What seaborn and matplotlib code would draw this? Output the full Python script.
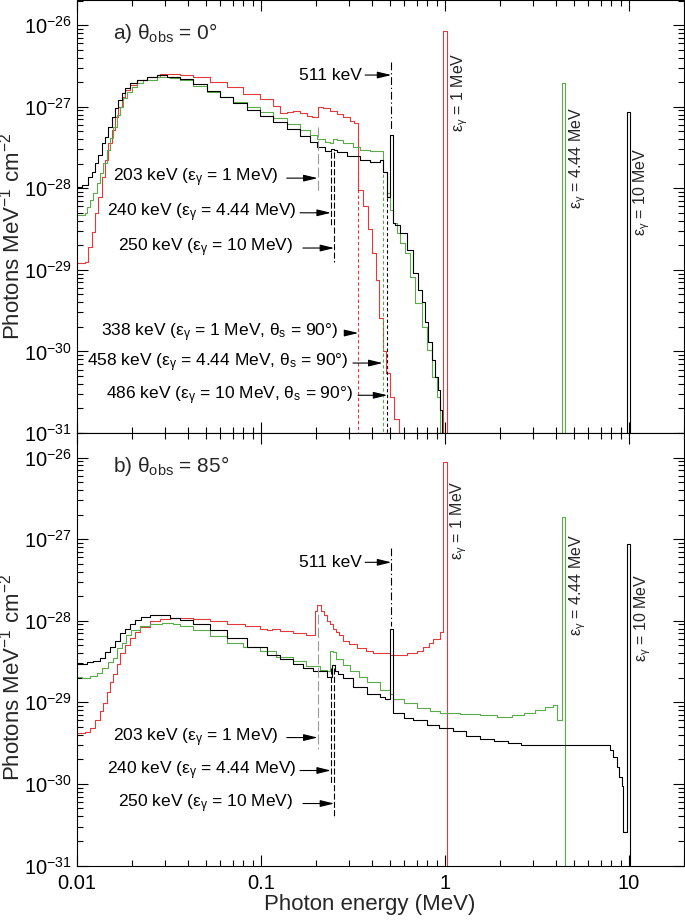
import numpy as np
import pandas as pd
import matplotlib
matplotlib.use("Agg")
import matplotlib.pyplot as plt
from matplotlib.ticker import LogLocator, NullFormatter, FixedLocator, FixedFormatter, LogFormatterSciNotation
import seaborn as sns

OFF = 1e-33  # continuum below the plotted range

# ---------------- panel a) theta_obs = 0 deg ----------------
A_BLACK_E = [0.0100, 0.0107, 0.0115, 0.0120, 0.0125, 0.0130, 0.0136, 0.0142, 0.0147, 0.0155,
             0.0161, 0.0167, 0.0176, 0.0182, 0.0194, 0.0212, 0.0240, 0.0272, 0.0309, 0.0363,
             0.0427, 0.0509, 0.0599, 0.0705, 0.0839, 0.0988, 0.116, 0.138, 0.163, 0.184,
             0.2015, 0.223, 0.240, 0.250, 0.260, 0.293, 0.345, 0.392, 0.443, 0.460,
             0.484, 0.502, 0.521, 0.535, 0.569, 0.621, 0.670, 0.713, 0.750, 0.778,
             0.809, 0.850, 0.882, 0.916, 0.939, 0.960, 9.75, 10.1, 20.0]
A_BLACK_F = [1.03e-28, 1.09e-28, 1.37e-28, 1.58e-28, 2.04e-28, 2.55e-28, 3.58e-28, 4.24e-28, 5.62e-28, 7.5e-28,
             9.6e-28, 1.21e-27, 1.47e-27, 1.69e-27, 1.95e-27, 2.12e-27, 2.31e-27, 2.44e-27, 2.31e-27, 2.18e-27,
             1.88e-27, 1.56e-27, 1.31e-27, 1.11e-27, 9.1e-28, 7.7e-28, 6.5e-28, 5.3e-28, 4.37e-28, 3.7e-28,
             3.2e-28, 2.86e-28, 3.0e-28, 2.94e-28, 2.78e-28, 2.47e-28, 2.22e-28, 2.09e-28, 2.2e-28, 1.58e-28,
             7.8e-29, 4.5e-28, 3.75e-29, 3.5e-29, 2.83e-29, 1.75e-29, 9.1e-30, 5.65e-30, 4.0e-30, 2.3e-30,
             1.3e-30, 7.8e-31, 4.9e-31, 3.4e-31, 1.9e-31, OFF, 8.6e-28, OFF, OFF]

A_GREEN_E = [0.0100, 0.0110, 0.0113, 0.0118, 0.0122, 0.0128, 0.0133, 0.0138, 0.0146, 0.0151,
             0.0157, 0.0165, 0.0171, 0.0178, 0.0187, 0.0199, 0.0212, 0.0228, 0.0272, 0.0320,
             0.0363, 0.0427, 0.0509, 0.0599, 0.0705, 0.0839, 0.0988, 0.116, 0.138, 0.163,
             0.184, 0.2015, 0.223, 0.237, 0.246, 0.259, 0.279, 0.316, 0.345, 0.392,
             0.460, 0.484, 0.502, 0.521, 0.548, 0.569, 0.606, 0.645, 0.687, 0.750,
             0.798, 0.850, 0.905, 0.940, 4.32, 4.49, 20.0]
A_GREEN_F = [4.7e-29, 5.0e-29, 5.9e-29, 7.2e-29, 8.7e-29, 1.16e-28, 1.53e-28, 2.04e-28, 2.94e-28, 4.1e-28,
             5.62e-28, 7.9e-28, 9.9e-28, 1.27e-27, 1.51e-27, 1.74e-27, 1.95e-27, 2.12e-27, 2.31e-27, 2.24e-27,
             2.12e-27, 1.79e-27, 1.51e-27, 1.31e-27, 1.15e-27, 9.9e-28, 8.6e-28, 7.3e-28, 6.1e-28, 5.2e-28,
             4.5e-28, 4.0e-28, 3.7e-28, 3.6e-28, 4.0e-28, 3.9e-28, 3.6e-28, 3.2e-28, 2.94e-28, 2.86e-28,
             1.58e-28, 8.7e-29, 5.4e-29, 3.75e-29, 2.83e-29, 2.13e-29, 1.61e-29, 8.2e-30, 3.9e-30, 1.99e-30,
             1.04e-30, 4.9e-31, 2.8e-31, OFF, 1.95e-27, OFF, OFF]

A_RED_E = [0.0100, 0.0110, 0.0115, 0.0120, 0.0125, 0.0130, 0.0136, 0.0142, 0.0147, 0.0155,
           0.0161, 0.0167, 0.0176, 0.0182, 0.0194, 0.0212, 0.0240, 0.0283, 0.0363, 0.0427,
           0.0528, 0.0654, 0.0800, 0.0988, 0.116, 0.127, 0.138, 0.149, 0.163, 0.177,
           0.190, 0.203, 0.217, 0.237, 0.259, 0.279, 0.305, 0.320, 0.338, 0.360,
           0.380, 0.400, 0.420, 0.440, 0.460, 0.480, 0.500, 0.530, 0.560, 0.975,
           1.025, 20.0]
A_RED_F = [1.21e-29, 1.23e-29, 1.9e-29, 2.9e-29, 5.0e-29, 7.8e-29, 1.37e-28, 2.22e-28, 3.58e-28, 5.2e-28,
           7.5e-28, 9.9e-28, 1.31e-27, 1.6e-27, 1.84e-27, 2.12e-27, 2.31e-27, 2.51e-27, 2.45e-27, 2.31e-27,
           2.0e-27, 1.74e-27, 1.43e-27, 1.25e-27, 1.02e-27, 8.4e-28, 8.6e-28, 8.9e-28, 8.4e-28, 7.7e-28,
           7.5e-28, 9.9e-28, 9.6e-28, 8.9e-28, 8.1e-28, 7.5e-28, 6.6e-28, 6.3e-28, 9.5e-29, 6.0e-29,
           3.2e-29, 1.6e-29, 7.5e-30, 2.6e-30, 1.0e-30, 5.4e-31, 2.8e-31, 1.5e-31, OFF, 8.4e-27,
           OFF, OFF]

# ---------------- panel b) theta_obs = 85 deg ----------------
B_BLACK_E = [0.0100, 0.0113, 0.0122, 0.0133, 0.0142, 0.0151, 0.0161, 0.0171, 0.0182, 0.0194,
             0.0207, 0.0224, 0.0249, 0.0283, 0.0320, 0.0363, 0.0427, 0.0528, 0.0654, 0.0839,
             0.108, 0.127, 0.149, 0.170, 0.192, 0.228, 0.244, 0.254, 0.262, 0.279,
             0.316, 0.377, 0.443, 0.470, 0.502, 0.521, 0.600, 0.670, 0.800, 0.930,
             1.10, 1.30, 1.55, 1.85, 2.20, 2.60, 3.00, 4.40, 6.70, 7.59,
             7.88, 8.19, 8.61, 8.83, 9.17, 9.27, 9.75, 10.1, 20.0]
B_BLACK_F = [2.99e-29, 3.08e-29, 3.25e-29, 3.54e-29, 4.1e-29, 4.7e-29, 5.7e-29, 7.0e-29, 8.0e-29, 9.2e-29,
             1.03e-28, 1.12e-28, 1.19e-28, 1.16e-28, 1.09e-28, 1.03e-28, 9.2e-29, 7.6e-29, 6.2e-29, 4.8e-29,
             3.85e-29, 3.35e-29, 2.99e-29, 2.65e-29, 2.4e-29, 2.07e-29, 2.83e-29, 2.45e-29, 2.2e-29, 1.96e-29,
             1.52e-29, 1.28e-29, 1.15e-29, 1.11e-29, 7.9e-29, 7.3e-30, 6.5e-30, 6.0e-30, 5.3e-30, 4.8e-30,
             4.4e-30, 3.9e-30, 3.6e-30, 3.4e-30, 3.15e-30, 3.04e-30, 2.96e-30, 2.96e-30, 3.0e-30, 2.96e-30,
             2.57e-30, 2.11e-30, 1.59e-30, 1.2e-30, 9.5e-31, 2.54e-31, 8.6e-28, OFF, OFF]

B_GREEN_E = [0.0100, 0.0107, 0.0118, 0.0128, 0.0137, 0.0147, 0.0157, 0.0165, 0.0176, 0.0185,
             0.0197, 0.0220, 0.0249, 0.0290, 0.0333, 0.0363, 0.0427, 0.0528, 0.0654, 0.0800,
             0.0988, 0.120, 0.149, 0.175, 0.209, 0.228, 0.236, 0.246, 0.256, 0.280,
             0.305, 0.340, 0.377, 0.443, 0.502, 0.521, 0.600, 0.705, 0.830, 0.940,
             1.20, 1.55, 1.92, 2.30, 2.70, 3.10, 3.50, 3.86, 4.06, 4.32,
             4.49, 20.0]
B_GREEN_F = [2.07e-29, 1.96e-29, 2.13e-29, 2.32e-29, 2.6e-29, 3.08e-29, 3.54e-29, 4.6e-29, 5.4e-29, 6.6e-29,
             7.6e-29, 8.5e-29, 9.2e-29, 9.5e-29, 9.0e-29, 8.5e-29, 7.6e-29, 6.5e-29, 5.4e-29, 4.7e-29,
             4.2e-29, 3.6e-29, 3.17e-29, 2.8e-29, 2.5e-29, 2.45e-29, 4.3e-29, 4.1e-29, 3.44e-29, 2.9e-29,
             2.45e-29, 2.05e-29, 1.75e-29, 1.4e-29, 1.28e-29, 1.11e-29, 9.7e-30, 8.6e-30, 7.9e-30, 7.5e-30,
             7.1e-30, 6.9e-30, 6.7e-30, 6.9e-30, 7.5e-30, 8.1e-30, 8.8e-30, 9.4e-30, 6.0e-30, 1.89e-27,
             OFF, OFF]

B_RED_E = [0.0100, 0.0110, 0.0118, 0.0125, 0.0133, 0.0138, 0.0146, 0.0151, 0.0157, 0.0165,
           0.0171, 0.0182, 0.0194, 0.0207, 0.0220, 0.0249, 0.0283, 0.0320, 0.0427, 0.0528,
           0.0654, 0.0820, 0.0988, 0.108, 0.115, 0.127, 0.149, 0.175, 0.197, 0.202,
           0.212, 0.220, 0.228, 0.237, 0.246, 0.256, 0.267, 0.279, 0.300, 0.332,
           0.370, 0.406, 0.502, 0.621, 0.700, 0.759, 0.820, 0.860, 0.939, 0.975,
           1.025, 20.0]
B_RED_F = [4.15e-30, 4.3e-30, 4.9e-30, 6.0e-30, 7.9e-30, 9.95e-30, 1.32e-29, 1.75e-29, 2.25e-29, 2.99e-29,
           4.0e-29, 5.0e-29, 6.2e-29, 7.2e-29, 8.3e-29, 9.8e-29, 1.06e-28, 1.09e-28, 1.06e-28, 1.0e-28,
           9.2e-29, 8.5e-29, 8.0e-29, 7.6e-29, 8.0e-29, 7.4e-29, 7.0e-29, 6.7e-29, 1.33e-28, 1.58e-28,
           1.3e-28, 1.16e-28, 1.0e-28, 9.2e-29, 8.0e-29, 7.3e-29, 6.6e-29, 5.7e-29, 5.2e-29, 4.6e-29,
           4.2e-29, 4.0e-29, 3.85e-29, 4.0e-29, 4.3e-29, 4.7e-29, 5.3e-29, 6.0e-29, 7.2e-29, 8.7e-27,
           OFF, OFF]

XTICKS = [0.01, 0.1, 1, 10]
XTICK_LABELS = ["0.01", "0.1", "1", "10"]
YTICKS = [1e-31, 1e-30, 1e-29, 1e-28, 1e-27, 1e-26]

EPS = r"$\varepsilon_{\gamma}$"
TH_S = r"$\theta_{\mathrm{s}}$"

# vertical marker lines: energy (MeV), upper flux, lower flux, colour, dash style
A_MARKERS = [
    (0.203, 5.6e-28, 8.7e-29, "#9a9a9a", "long"),
    (0.240, 2.78e-28, 3.35e-29, "black", "dash"),
    (0.250, 2.78e-28, 1.25e-29, "black", "dash"),
    (0.338, 1.6e-28, 1e-31, "#e23a3a", "short"),
    (0.458, 1.5e-28, 1e-31, "#5aac4a", "short"),
    (0.486, 9.0e-29, 1e-31, "black", "short"),
    (0.511, 3.5e-27, 5.2e-28, "black", "dashdot"),
]
B_MARKERS = [
    (0.203, 1.22e-28, 2.7e-30, "#9a9a9a", "long"),
    (0.240, 2.67e-29, 1.0e-30, "black", "dash"),
    (0.250, 2.67e-29, 3.8e-31, "black", "dash"),
    (0.511, 7.9e-28, 8.7e-29, "black", "dashdot"),
]
DASHES = {"long": (9, 3), "dash": (5.5, 2), "short": (3, 2.2), "dashdot": (7, 2.5, 1.2, 2.5)}

# annotations: label, arrow tip energy, arrow start energy, text right-edge energy, flux level
A_NOTES = [
    ("511 keV", 0.511, 0.368, 0.354, 2.44e-27),
    ("203 keV (" + EPS + " = 1 MeV)", 0.203, 0.138, 0.124, 1.33e-28),
    ("240 keV (" + EPS + " = 4.44 MeV)", 0.240, 0.163, 0.157, 5.0e-29),
    ("250 keV (" + EPS + " = 10 MeV)", 0.250, 0.169, 0.149, 1.85e-29),
    ("338 keV (" + EPS + " = 1 MeV, " + TH_S + " = 90°)", 0.338, 0.293, 0.262, 1.68e-30),
    ("458 keV (" + EPS + " = 4.44 MeV, " + TH_S + " = 90°)", 0.458, 0.316, 0.297, 7.2e-31),
    ("486 keV (" + EPS + " = 10 MeV, " + TH_S + " = 90°)", 0.486, 0.337, 0.316, 2.9e-31),
]
B_NOTES = [
    ("511 keV", 0.511, 0.368, 0.354, 5.2e-28),
    ("203 keV (" + EPS + " = 1 MeV)", 0.203, 0.138, 0.124, 3.7e-30),
    ("240 keV (" + EPS + " = 4.44 MeV)", 0.240, 0.163, 0.157, 1.46e-30),
    ("250 keV (" + EPS + " = 10 MeV)", 0.250, 0.169, 0.149, 5.75e-31),
]
A_LINE_LABELS = [(EPS + " = 1 MeV", 1.206, 1.51e-27), (EPS + " = 4.44 MeV", 5.28, 2.34e-28),
                 (EPS + " = 10 MeV", 11.77, 9.0e-29)]
B_LINE_LABELS = [(EPS + " = 1 MeV", 1.18, 1.69e-27), (EPS + " = 4.44 MeV", 5.28, 2.7e-28),
                 (EPS + " = 10 MeV", 11.9, 1.09e-28)]

PALETTE = {"red": "#e23a3a", "green": "#5aac4a", "black": "#000000"}
ORDER = ["red", "green", "black"]

sns.set_theme(style="ticks")
plt.rcParams["font.family"] = ["Liberation Sans", "DejaVu Sans"]
plt.rcParams.update({
    "mathtext.fontset": "custom",
    "mathtext.rm": "Liberation Sans",
    "mathtext.it": "Liberation Sans",
    "mathtext.sf": "Liberation Sans",
    "mathtext.bf": "Liberation Sans:bold",
    "axes.unicode_minus": False,
    "axes.linewidth": 0.8,
    "axes.edgecolor": "black",
})


def panel_frame(series):
    parts = [pd.DataFrame({"E": E, "F": F, "series": name}) for name, E, F in series]
    return pd.concat(parts, ignore_index=True)


df_a = panel_frame([("red", A_RED_E, A_RED_F), ("green", A_GREEN_E, A_GREEN_F),
                    ("black", A_BLACK_E, A_BLACK_F)])
df_b = panel_frame([("red", B_RED_E, B_RED_F), ("green", B_GREEN_E, B_GREEN_F),
                    ("black", B_BLACK_E, B_BLACK_F)])

fig = plt.figure(figsize=(6.85, 9.22), dpi=100)
W = 607.4 / 685
H = 432.5 / 922
ax_a = fig.add_axes([77 / 685, 1 - 433 / 922, W, H])
ax_b = fig.add_axes([77 / 685, 1 - 865.5 / 922, W, H])

panels = [(ax_a, df_a, A_MARKERS, A_NOTES, A_LINE_LABELS, r"a) $\theta_{\mathrm{obs}}$ = 0°", 0.455),
          (ax_b, df_b, B_MARKERS, B_NOTES, B_LINE_LABELS, r"b) $\theta_{\mathrm{obs}}$ = 85°", 0.435)]

for ax, df, markers, notes, line_labels, title, ylab_y in panels:
    ax.set_xscale("log")
    ax.set_yscale("log")
    sns.lineplot(data=df, x="E", y="F", hue="series", hue_order=ORDER, palette=PALETTE,
                 estimator=None, sort=False, drawstyle="steps-post", linewidth=0.8,
                 legend=False, ax=ax)
    ax.set_xlim(0.01, 20)
    ax.set_ylim(1e-31, 2e-26)

    for E, f1, f2, col, style in markers:
        ax.plot([E, E], [f1, f2], color=col, lw=0.8, dashes=DASHES[style])

    for label, tip, start, tx, fy in notes:
        ax.annotate("", xy=(tip, fy), xytext=(start, fy),
                    arrowprops=dict(arrowstyle="-|>,head_length=0.7,head_width=0.17",
                                    mutation_scale=12, color="black", lw=0.8,
                                    shrinkA=0, shrinkB=0))
        ax.text(tx, fy, label, ha="right", va="center", fontsize=12.5, color="black")

    for label, E, fy in line_labels:
        ax.text(E, fy, label, rotation=90, ha="center", va="center", fontsize=11.5)

    ax.text(0.0587, 0.924, title, transform=ax.transAxes, ha="left", va="center", fontsize=15)

    ax.xaxis.set_major_locator(FixedLocator(XTICKS))
    ax.xaxis.set_major_formatter(FixedFormatter(XTICK_LABELS))
    ax.xaxis.set_minor_locator(LogLocator(base=10, subs=np.arange(2, 10), numticks=100))
    ax.xaxis.set_minor_formatter(NullFormatter())
    ax.yaxis.set_major_locator(FixedLocator(YTICKS))
    ax.yaxis.set_major_formatter(LogFormatterSciNotation())
    ax.yaxis.set_minor_locator(LogLocator(base=10, subs=np.arange(2, 10), numticks=100))
    ax.yaxis.set_minor_formatter(NullFormatter())
    ax.tick_params(which="both", direction="in", top=True, right=True, width=0.8, colors="black")
    ax.tick_params(which="major", length=8, labelsize=14.5, pad=4)
    ax.tick_params(axis="x", which="major", pad=6)
    ax.tick_params(which="minor", length=4)
    for sp in ax.spines.values():
        sp.set_visible(True)
        sp.set_color("black")
        sp.set_linewidth(0.8)
    ax.set_ylabel("Photons MeV$^{-1}$ cm$^{-2}$", fontsize=16)
    ax.yaxis.set_label_coords(-0.087, ylab_y)
    ax.set_xlabel("")

ax_a.tick_params(labelbottom=False)
ax_b.set_xlabel("Photon energy (MeV)", fontsize=16)
ax_b.xaxis.set_label_coords(0.482, -0.066)

fig.savefig("out.png", dpi=100)
